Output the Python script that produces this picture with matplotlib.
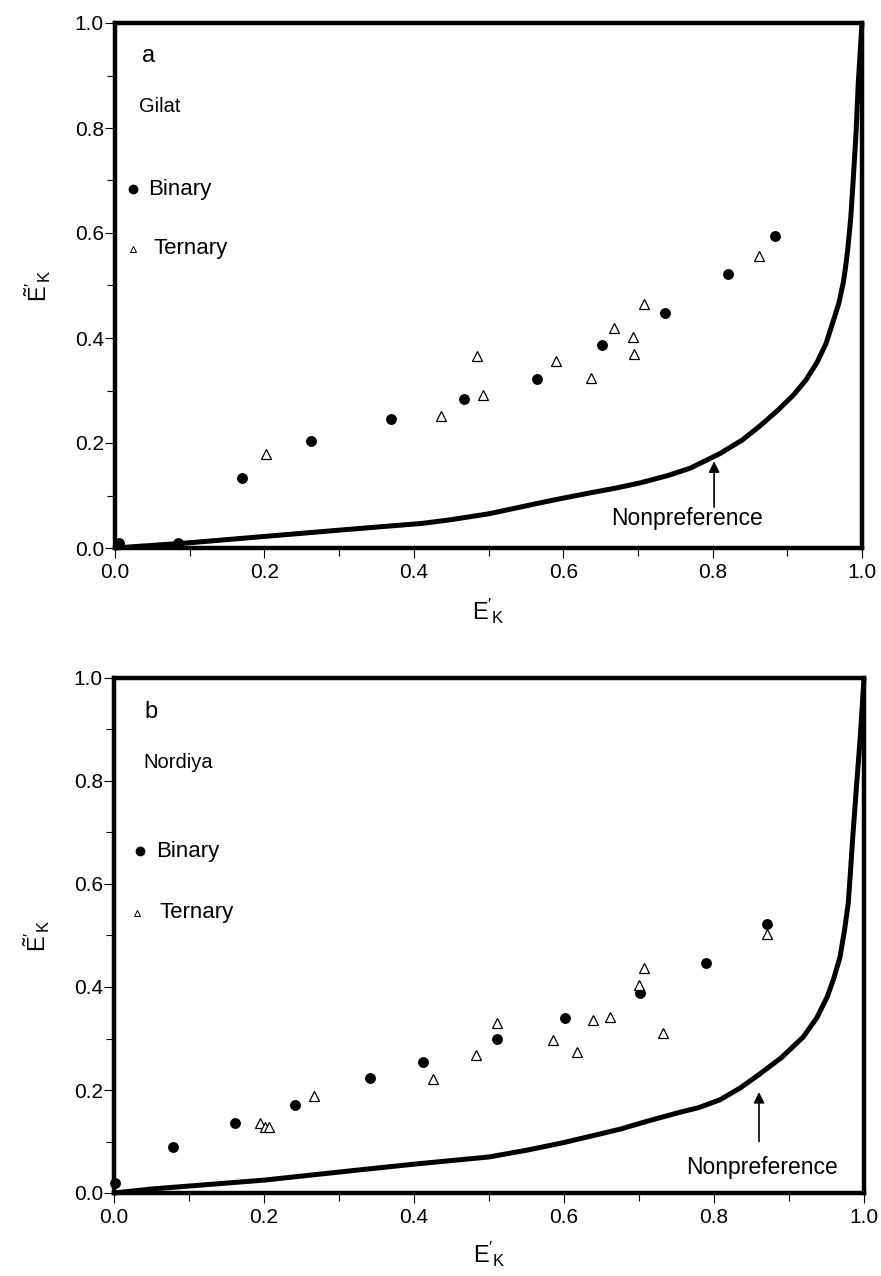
import matplotlib
matplotlib.use("Agg")
import matplotlib.pyplot as plt
from matplotlib.ticker import MultipleLocator, FixedLocator

plt.rcParams['font.family'] = ['Liberation Sans', 'DejaVu Sans']
plt.rcParams['mathtext.fontset'] = 'custom'
plt.rcParams['mathtext.rm'] = 'Liberation Sans'
plt.rcParams['mathtext.it'] = 'Liberation Sans:italic'

# ---------------- data: panel a (Gilat) ----------------
a_bin_x = [0.006, 0.085, 0.170, 0.263, 0.370, 0.467, 0.565, 0.652, 0.736, 0.820, 0.884]
a_bin_y = [0.009, 0.009, 0.134, 0.203, 0.245, 0.283, 0.321, 0.386, 0.448, 0.522, 0.595]
a_ter_x = [0.202, 0.437, 0.485, 0.492, 0.590, 0.637, 0.668, 0.694, 0.695, 0.708, 0.862]
a_ter_y = [0.180, 0.251, 0.365, 0.291, 0.357, 0.323, 0.420, 0.402, 0.370, 0.464, 0.556]
a_curve_x = [0.0, 0.05, 0.10, 0.20, 0.30, 0.412, 0.45, 0.50, 0.569, 0.60, 0.636, 0.67,
             0.703, 0.74, 0.77, 0.81, 0.84, 0.863, 0.887, 0.908, 0.925, 0.94, 0.952,
             0.961, 0.969, 0.975, 0.978, 0.981, 0.985, 0.988, 0.992, 0.995, 1.0]
a_curve_y = [0.0, 0.005, 0.010, 0.022, 0.034, 0.047, 0.054, 0.065, 0.086, 0.095, 0.105,
             0.114, 0.124, 0.138, 0.152, 0.180, 0.206, 0.232, 0.262, 0.291, 0.320, 0.354,
             0.390, 0.430, 0.466, 0.506, 0.535, 0.570, 0.630, 0.696, 0.790, 0.886, 1.0]

# ---------------- data: panel b (Nordiya) ----------------
b_bin_x = [0.001, 0.079, 0.161, 0.241, 0.341, 0.412, 0.511, 0.601, 0.701, 0.789, 0.870]
b_bin_y = [0.019, 0.089, 0.135, 0.170, 0.223, 0.255, 0.299, 0.340, 0.389, 0.446, 0.522]
b_ter_x = [0.194, 0.201, 0.207, 0.267, 0.425, 0.482, 0.510, 0.585, 0.617, 0.638,
           0.661, 0.700, 0.707, 0.732, 0.871]
b_ter_y = [0.136, 0.128, 0.128, 0.189, 0.221, 0.267, 0.331, 0.297, 0.273, 0.336,
           0.342, 0.404, 0.436, 0.310, 0.503]
b_curve_x = [0.0, 0.052, 0.20, 0.328, 0.40, 0.50, 0.55, 0.60, 0.675, 0.71, 0.75, 0.78,
             0.808, 0.835, 0.86, 0.89, 0.919, 0.937, 0.951, 0.96, 0.968, 0.974, 0.979,
             0.982, 0.985, 0.99, 0.995, 1.0]
b_curve_y = [0.0, 0.008, 0.025, 0.045, 0.056, 0.070, 0.083, 0.098, 0.124, 0.139, 0.155,
             0.166, 0.181, 0.204, 0.230, 0.263, 0.303, 0.340, 0.381, 0.418, 0.458, 0.510,
             0.563, 0.625, 0.691, 0.790, 0.885, 1.0]

tick_vals = [0.0, 0.2, 0.4, 0.6, 0.8, 1.0]
tick_labels = ['0.0', '0.2', '0.4', '0.6', '0.8', '1.0']

fig = plt.figure(figsize=(8.81, 12.76), dpi=100)
ax_a = fig.add_axes([115/881, 1-548/1276, 747/881, 525/1276])
ax_b = fig.add_axes([114/881, 1-1193/1276, 750/881, 515/1276])

panels = [
    (ax_a, a_bin_x, a_bin_y, a_ter_x, a_ter_y, a_curve_x, a_curve_y,
     'a', 'Gilat', (0.036, 0.937), (0.032, 0.840),
     (0.024, 0.683, 0.044), (0.024, 0.570, 0.051),
     (0.766, 0.057), (0.802, 0.078, 0.165)),
    (ax_b, b_bin_x, b_bin_y, b_ter_x, b_ter_y, b_curve_x, b_curve_y,
     'b', 'Nordiya', (0.041, 0.934), (0.039, 0.835),
     (0.035, 0.664, 0.056), (0.031, 0.544, 0.060),
     (0.864, 0.050), (0.860, 0.100, 0.196)),
]

for (ax, bx, by, tx, ty, cx, cy, letter, name, lpos, npos,
     bleg, tleg, nptxt, arr) in panels:
    ax.set_xlim(0, 1)
    ax.set_ylim(0, 1)
    ax.plot(cx, cy, color='black', lw=3.6, solid_capstyle='butt',
            solid_joinstyle='round', zorder=3, clip_on=False)
    ax.plot(bx, by, 'o', color='black', ms=6.8, zorder=4, clip_on=False)
    ax.plot(tx, ty, '^', mfc='white', mec='black', mew=0.9, ms=7, zorder=4)

    for s in ax.spines.values():
        s.set_linewidth(3.2)
    ax.xaxis.set_major_locator(FixedLocator(tick_vals))
    ax.yaxis.set_major_locator(FixedLocator(tick_vals))
    ax.set_xticklabels(tick_labels)
    ax.set_yticklabels(tick_labels)
    ax.xaxis.set_minor_locator(MultipleLocator(0.1))
    ax.yaxis.set_minor_locator(MultipleLocator(0.1))
    ax.tick_params(which='major', direction='out', length=7, width=0.8,
                   labelsize=15, pad=1)
    ax.tick_params(axis='x', which='major', pad=4)
    ax.tick_params(which='minor', direction='out', length=6, width=0.8)

    ax.text(lpos[0], lpos[1], letter, transform=ax.transAxes, fontsize=17,
            ha='left', va='center')
    ax.text(npos[0], npos[1], name, transform=ax.transAxes, fontsize=14.5,
            ha='left', va='center')
    ax.plot([bleg[0]], [bleg[1]], 'o', color='black', ms=6, transform=ax.transAxes)
    ax.text(bleg[2], bleg[1], 'Binary', transform=ax.transAxes, fontsize=16,
            ha='left', va='center')
    ax.plot([tleg[0]], [tleg[1]], '^', mfc='white', mec='black', mew=0.7, ms=5,
            transform=ax.transAxes)
    ax.text(tleg[2], tleg[1], 'Ternary', transform=ax.transAxes, fontsize=16,
            ha='left', va='center')

    ax.text(nptxt[0], nptxt[1], 'Nonpreference', fontsize=16.5, ha='center', va='center')
    ax.annotate('', xy=(arr[0], arr[2]), xytext=(arr[0], arr[1]),
                arrowprops=dict(arrowstyle='-|>', color='black', lw=1.2,
                                mutation_scale=16, shrinkA=0, shrinkB=0))

    ax.text(0.5, -0.12, r"$\mathrm{E}'_{\mathrm{K}}$", transform=ax.transAxes,
            fontsize=17, ha='center', va='center')
    ax.text(-0.103, 0.5, r"$\tilde{\mathrm{E}}'_{\mathrm{K}}$", transform=ax.transAxes,
            fontsize=17, ha='center', va='center', rotation=90)

fig.savefig('out.png', dpi=100, facecolor='white')
